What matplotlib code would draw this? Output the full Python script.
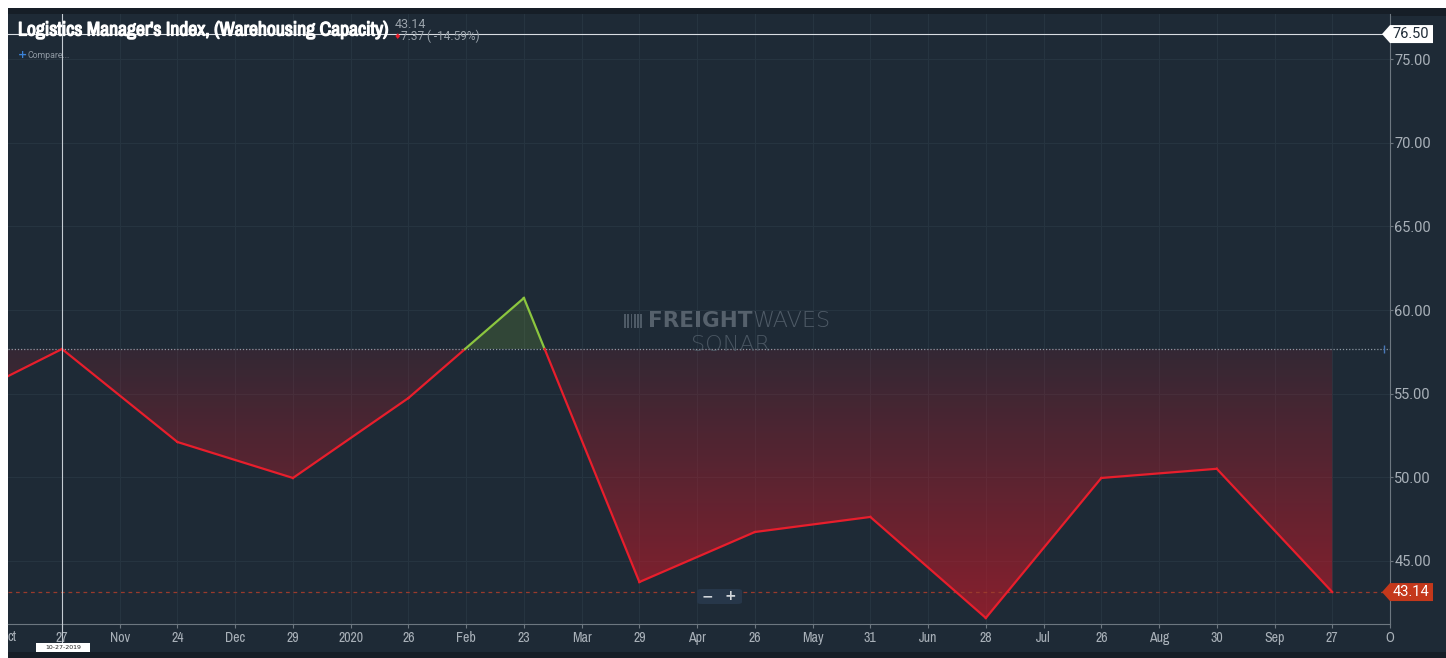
import numpy as np
import matplotlib
matplotlib.use("Agg")
import matplotlib.pyplot as plt
import matplotlib.patheffects as pe
from matplotlib import font_manager
from matplotlib.patches import Polygon, FancyBboxPatch
from matplotlib.path import Path
from matplotlib.colors import LinearSegmentedColormap

# monthly index values, oldest first (first one is the partly visible Sep 2019 point)
day_labels = ["27", "24", "29", "26", "23", "29", "26", "31", "28", "26", "30", "27"]
month_labels = ["Nov", "Dec", "2020", "Feb", "Mar", "Apr", "May", "Jun", "Jul", "Aug", "Sep", "O"]
prev_value = 54.2
values = [57.67, 52.11, 49.96, 54.74, 60.72, 43.74, 46.73, 47.63, 41.59, 49.96, 50.51, 43.14]
y_ticks = [45, 50, 55, 60, 65, 70, 75]
cursor_value = 76.50
last_value = 43.14

BG = "#1e2a36"
OUTER = "#161e27"
RED = "#e81e2c"
GREEN = "#8cc63f"
GRID = "#263440"
TICKC = "#a9b1b9"

# look for a condensed face, the original uses a narrow font
cond_family, cond_stretch = "Roboto", "normal"
for f in font_manager.fontManager.ttflist:
    low = f.name.lower()
    if "narrow" in low or "condensed" in low:
        cond_family, cond_stretch = f.name, "normal"
        break
    if "condensed" in str(f.stretch):
        cond_family, cond_stretch = f.name, "condensed"
NARROW = dict(family=[cond_family, "DejaVu Sans"], fontstretch=cond_stretch)
PLAIN = dict(family=["Roboto", "DejaVu Sans"])

W, H = 1446, 658
fig = plt.figure(figsize=(W / 100, H / 100), dpi=100)
fig.patch.set_facecolor("white")
# dark frame behind the chart
fig.add_artist(plt.Rectangle((8 / W, 0), 1 - 8 / W, (658 - 8) / H, transform=fig.transFigure,
                             facecolor=OUTER, edgecolor="none", zorder=-2))
fig.add_artist(plt.Rectangle((8 / W, 6 / H), 1 - 8 / W, (658 - 22) / H, transform=fig.transFigure,
                             facecolor=BG, edgecolor="none", zorder=-1))

ax = fig.add_axes([8 / W, 34 / H, (1390 - 8) / W, (624 - 14) / H])
ax.set_facecolor(BG)

xs = np.arange(-1, len(values))
ys = np.array([prev_value] + values)
base = values[0]

# grid
for i in range(len(values)):
    ax.axvline(i, color=GRID, lw=0.8, zorder=0)
    ax.axvline(i + 0.5, color=GRID, lw=0.8, zorder=0)
for v in y_ticks:
    ax.axhline(v, color=GRID, lw=0.8, zorder=0)

# red gradient fill below the baseline
below = ax.fill_between(xs, ys, base, where=ys <= base, interpolate=True,
                        facecolor="none", edgecolor="none")
clip = Path.make_compound_path(*below.get_paths())
cmap = LinearSegmentedColormap.from_list(
    "redfade", [(0.78, 0.10, 0.16, 0.64), (0.78, 0.10, 0.16, 0.13)])
grad = np.linspace(0, 1, 256).reshape(-1, 1)
im = ax.imshow(grad, cmap=cmap, aspect="auto", origin="lower",
               extent=(-1, 12, 41.23, base), zorder=1, interpolation="bilinear")
im.set_clip_path(clip, transform=ax.transData)
ax.fill_between(xs, ys, base, where=ys >= base, interpolate=True,
                facecolor=GREEN, alpha=0.18, edgecolor="none", zorder=1)
ax.set_xlim(-0.4675, 11.498)
ax.set_ylim(41.23, 77.7)

# line, split at the baseline
for k in range(len(xs) - 1):
    x0, x1, y0, y1 = xs[k], xs[k + 1], ys[k], ys[k + 1]
    if (y0 - base) * (y1 - base) < 0:
        xc = x0 + (base - y0) / (y1 - y0) * (x1 - x0)
        ax.plot([x0, xc], [y0, base], color=GREEN if y0 > base else RED, lw=1.6, zorder=3)
        ax.plot([xc, x1], [base, y1], color=GREEN if y1 > base else RED, lw=1.6, zorder=3)
    else:
        c = GREEN if max(y0, y1) > base else RED
        ax.plot([x0, x1], [y0, y1], color=c, lw=1.6, zorder=3)

# reference lines
ax.axhline(base, color="#8d98a3", lw=0.9, ls=(0, (1, 1.5)), zorder=2)
ax.axhline(last_value, color="#9a3a2c", lw=0.9, ls=(0, (3, 3)), zorder=2)
ax.axhline(cursor_value, color="#d8dde2", lw=0.8, zorder=4)
ax.axvline(0, color="#c5ccd3", lw=0.8, zorder=4)
ax.plot([11.45], [base], marker="|", color="#4a78b8", ms=6, zorder=4)

# axes styling
for s in ["left", "top"]:
    ax.spines[s].set_visible(False)
ax.spines["bottom"].set_color("#6d7780")
ax.spines["right"].set_color("#6d7780")
ax.yaxis.tick_right()
ax.set_yticks(y_ticks)
ax.set_yticklabels([f"{v:.2f}" for v in y_ticks], fontsize=10.5, color=TICKC, **PLAIN)
ax.tick_params(axis="y", length=2, color="#6d7780", pad=1)

xt = []
xl = []
for i in range(len(values)):
    xt += [i, i + 0.5]
    xl += [day_labels[i], month_labels[i]]
ax.set_xticks(xt)
ax.set_xticklabels(xl, fontsize=10, color=TICKC, **NARROW)
ax.tick_params(axis="x", length=3, color="#6d7780", pad=2)
fig.text(8 / W, 1 - 637 / H, "ct", fontsize=10, color=TICKC, ha="left", va="center", **NARROW)


def fig_y(v):
    return ax.transData.transform((0, v))[1] / H


# price tags on the right axis
for v, face, tc in [(cursor_value, "white", "#1e2a36"), (last_value, "#c4381b", "white")]:
    yf = fig_y(v)
    hh = 9 / H
    poly = Polygon([(1382 / W, yf), (1390 / W, yf + hh), (1433 / W, yf + hh),
                    (1433 / W, yf - hh), (1390 / W, yf - hh)], closed=True,
                   transform=fig.transFigure, facecolor=face, edgecolor="none", zorder=5)
    fig.add_artist(poly)
    fig.text(1411 / W, yf, f"{v:.2f}", fontsize=10.5, color=tc,
             ha="center", va="center", zorder=6, **PLAIN)

# cursor date label
fig.add_artist(plt.Rectangle((36 / W, 6 / H), 54 / W, 9 / H, transform=fig.transFigure,
                             facecolor="white", edgecolor="none", zorder=5))
fig.text(63 / W, 10.5 / H, "10-27-2019", fontsize=4.5, color="#222", ha="center",
         va="center", zorder=6)
fig.add_artist(plt.Line2D([62 / W, 62 / W], [15 / H, 34 / H], transform=fig.transFigure,
                          color="#c5ccd3", lw=0.8))

# zoom buttons
fig.add_artist(FancyBboxPatch((697 / W, 54 / H), 45 / W, 15 / H, transform=fig.transFigure,
                              boxstyle="round,pad=0,rounding_size=0.003",
                              facecolor="#27374a", edgecolor="none", zorder=5))
fig.text(707 / W, 61.5 / H, "\u2212", fontsize=10, color="#d0d5da", weight="bold",
         ha="center", va="center", zorder=6)
fig.text(730 / W, 61.5 / H, "+", fontsize=10, color="#d0d5da", weight="bold",
         ha="center", va="center", zorder=6)

# header
title = fig.text(18 / W, 1 - 30 / H, "Logistics Manager's Index, (Warehousing Capacity)",
                 fontsize=14, color="white", weight="bold", va="center", **NARROW,
                 path_effects=[pe.withStroke(linewidth=0.9, foreground="white")])
fig.text(395 / W, 1 - 24 / H, "43.14", fontsize=9, color="#9aa3ab", va="center", **PLAIN)
fig.text(394 / W, 1 - 36.5 / H, "\u2666", fontsize=6, color=RED, va="center")
fig.text(401 / W, 1 - 36.5 / H, "7.37 ( -14.59%)", fontsize=8.5, color="#9aa3ab",
         va="center", **PLAIN)
fig.text(18 / W, 1 - 55 / H, "+", fontsize=8, color="#3b82d6", weight="bold", va="center")
fig.text(28 / W, 1 - 55 / H, "Compare...", fontsize=6.3, color="#8e98a2", va="center", **PLAIN)

# watermark
wm = "#4e5a66"
w1 = fig.text(0.5, 1 - 321 / H, "FREIGHT", fontsize=15.5, color="#56616c", weight="heavy",
              ha="left", va="center", family="DejaVu Sans")
w2 = fig.text(0.5, 1 - 321 / H, "WAVES", fontsize=16, color=wm, weight="light",
              ha="left", va="center", family="DejaVu Sans")
w3 = fig.text(731 / W, 1 - 345 / H, "SONAR", fontsize=16, color=wm, weight="light",
              ha="center", va="center", family="DejaVu Sans", alpha=0.9)

# scale the title to the width seen in the original, lay out the watermark words
fig.canvas.draw()
r = fig.canvas.get_renderer()
wpx = title.get_window_extent(r).width
title.set_fontsize(title.get_fontsize() * 370 / wpx)
a = w1.get_window_extent(r).width
b = w2.get_window_extent(r).width
start = 727 - (25 + a + b) / 2
w1.set_x((start + 25) / W)
w2.set_x((start + 25 + a) / W)
for k in range(6):
    fig.add_artist(plt.Rectangle(((start + 1 + k * 3.2) / W, (658 - 328) / H), 1.8 / W, 14 / H,
                                 transform=fig.transFigure, facecolor=wm, edgecolor="none"))

fig.savefig("out.png", dpi=100, facecolor=fig.get_facecolor())
